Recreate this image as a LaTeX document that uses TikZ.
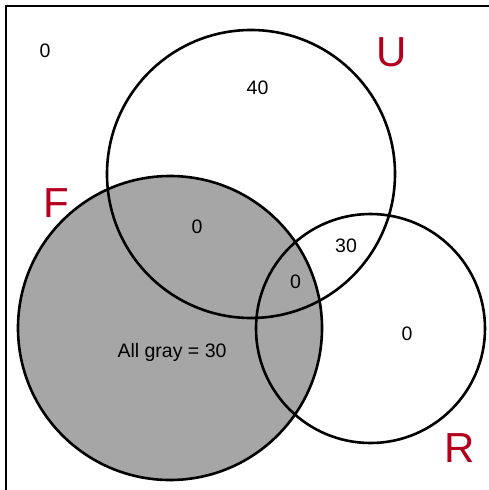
\documentclass[tikz,border=0pt]{standalone}
\usepackage{fontspec}
\setmainfont{Liberation Sans}
\definecolor{setred}{HTML}{B3001E}
\definecolor{setgray}{HTML}{A6A6A6}
\begin{document}
\begin{tikzpicture}[x=1pt,y=-1pt,
  setline/.style={line width=2.6pt,draw=black},
  numlabel/.style={font=\fontsize{19.5}{22}\selectfont,inner sep=0pt},
  setlabel/.style={font=\fontsize{42}{46}\selectfont,text=setred,inner sep=0pt}]
\useasboundingbox (0,0) rectangle (489,490);
% frame (top and left edges)
\draw[line width=2.2pt] (489,6) -- (6,6) -- (6,490);
% F filled
\fill[setgray] (170,328) circle (152);
% circles
\draw[setline] (170,328) circle (152);
\draw[setline] (251,174) circle (144);
\draw[setline] (370.5,328.5) circle (114.5);
% labels
\node[numlabel] (outside) at (45,51) {0};
\node[numlabel] (uonly) at (257.5,88) {40};
\node[numlabel] (fu) at (197,227) {0};
\node[numlabel] (ur) at (346,246) {30};
\node[numlabel] (fur) at (295.5,282) {0};
\node[numlabel] (ronly) at (407,334) {0};
\node[numlabel] (allgray) at (172,352) {All gray = 30};
\node[setlabel] (U) at (392,52) {U};
\node[setlabel] (F) at (56,203) {F};
\node[setlabel] (R) at (460,448) {R};
\end{tikzpicture}
\end{document}
